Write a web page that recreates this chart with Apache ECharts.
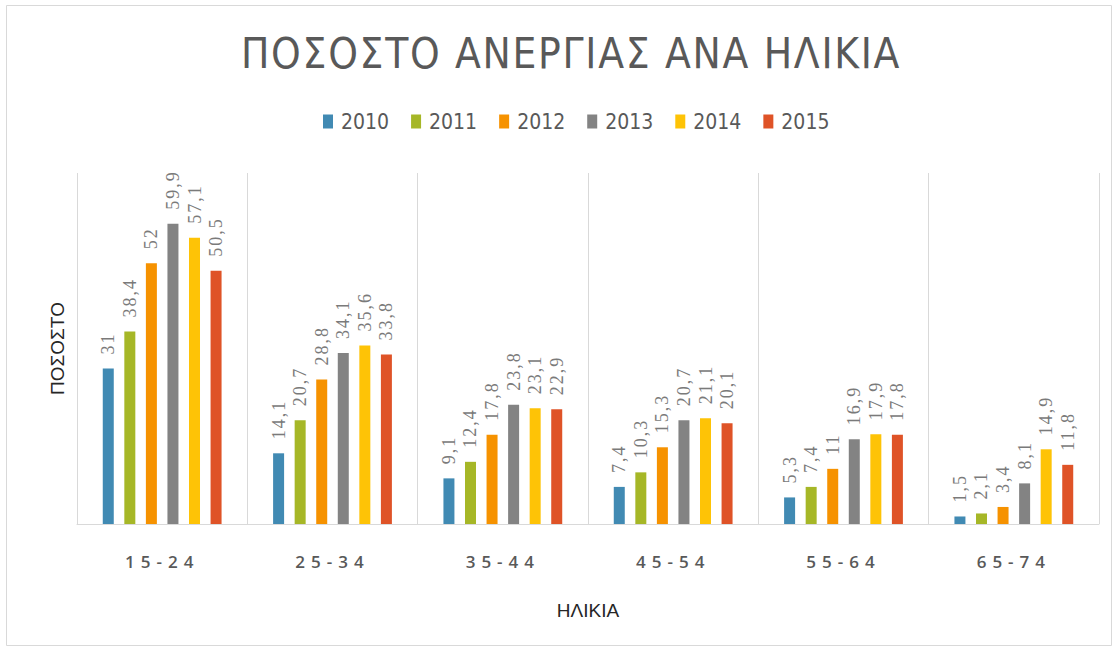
<!DOCTYPE html>
<html>
<head>
<meta charset="utf-8">
<script src="https://cdn.jsdelivr.net/npm/echarts@6/dist/echarts.min.js"></script>
<style>
  html, body { margin: 0; padding: 0; background: #fff; }
  #main { width: 1117px; height: 651px; }
  /* letter spacing for the Office-like text look (svg renderer) */
  #main text[style*="Liberation Serif"] { letter-spacing: 2px; }
  #main text[style*="Open Sans"] { letter-spacing: 6px; }
  #main text[style*="42px"] { letter-spacing: 1.7px; }
</style>
</head>
<body>
<div id="main"></div>
<script>
    'use strict'

    var categories = ['15-24', '25-34', '35-44', '45-54', '55-64', '65-74'];
    var years = ['2010', '2011', '2012', '2013', '2014', '2015'];
    var colors = ['#418AB3', '#A6B727', '#F69200', '#838383', '#FEC306', '#DF5327'];

    var values2010 = [31, 14.1, 9.1, 7.4, 5.3, 1.5];
    var values2011 = [38.4, 20.7, 12.4, 10.3, 7.4, 2.1];
    var values2012 = [52, 28.8, 17.8, 15.3, 11, 3.4];
    var values2013 = [59.9, 34.1, 23.8, 20.7, 16.9, 8.1];
    var values2014 = [57.1, 35.6, 23.1, 21.1, 17.9, 14.9];
    var values2015 = [50.5, 33.8, 22.9, 20.1, 17.8, 11.8];
    var allValues = [values2010, values2011, values2012, values2013, values2014, values2015];

    var narrow = '"Liberation Sans Narrow", "DejaVu Sans Condensed", "Liberation Sans", sans-serif';

    var chart = echarts.init(document.getElementById('main'), null, { renderer: 'svg' });

    var series = years.map(function (y, i) {
        return {
            name: y,
            type: 'bar',
            data: allValues[i],
            barWidth: 11,
            barGap: '96%',
            itemStyle: { color: colors[i] },
            label: {
                show: true,
                position: 'top',
                rotate: 90,
                align: 'left',
                verticalAlign: 'middle',
                distance: 14,
                color: '#7a7a7a',
                fontFamily: '"Liberation Serif", serif',
                fontSize: 18,
                formatter: function (p) { return String(p.value).replace('.', ','); }
            }
        };
    });

    chart.setOption({
        animation: false,
        color: colors,
        title: {
            text: 'ΠΟΣΟΣΤΟ ΑΝΕΡΓΙΑΣ ΑΝΑ ΗΛΙΚΙΑ',
            left: 236,
            top: 27,
            textStyle: {
                fontFamily: narrow,
                fontSize: 42,
                fontWeight: 'normal',
                color: '#595959'
            }
        },
        legend: {
            data: years,
            top: 106,
            left: 318,
            itemWidth: 10,
            itemHeight: 14,
            itemGap: 22,
            icon: 'rect',
            textStyle: { fontFamily: narrow, fontSize: 21, color: '#595959', padding: [0, 0, 0, 3] }
        },
        graphic: [{
            type: 'rect',
            shape: { x: 6.5, y: 5.5, width: 1105, height: 640 },
            style: { fill: 'none', stroke: '#d9d9d9', lineWidth: 1 },
            silent: true
        }],
        grid: { left: 77, right: 18, top: 173, bottom: 127 },
        xAxis: {
            type: 'category',
            data: categories,
            name: 'ΗΛΙΚΙΑ',
            nameLocation: 'middle',
            nameGap: 77,
            nameTextStyle: { fontFamily: '"Liberation Sans", sans-serif', fontSize: 19, color: '#262626' },
            axisLine: { lineStyle: { color: '#d9d9d9', width: 1 } },
            axisTick: { show: false },
            axisLabel: {
                margin: 29,
                fontFamily: '"Open Sans", sans-serif',
                fontSize: 17,
                fontWeight: 600,
                color: '#595959'
            },
            splitLine: { show: true, lineStyle: { color: '#d9d9d9', width: 1 } }
        },
        yAxis: {
            type: 'value',
            min: 0,
            max: 70,
            name: 'ΠΟΣΟΣΤΟ',
            nameLocation: 'middle',
            nameRotate: 90,
            nameGap: 10,
            nameTextStyle: { fontFamily: '"Liberation Sans", sans-serif', fontSize: 19, color: '#262626' },
            axisLine: { show: false },
            axisTick: { show: false },
            axisLabel: { show: false },
            splitLine: { show: false }
        },
        series: series
    });
</script>
</body>
</html>
